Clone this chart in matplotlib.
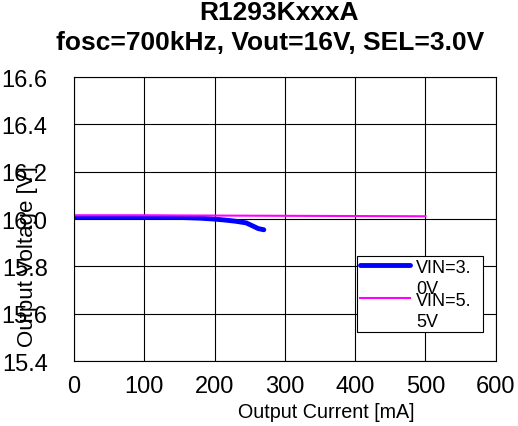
import numpy as np
import matplotlib.pyplot as plt
from matplotlib.legend_handler import HandlerLine2D
from matplotlib.lines import Line2D

plt.rcParams['font.family'] = ['Liberation Sans', 'DejaVu Sans']

# VIN=3.0V
i_30 = [0, 50, 100, 150, 180, 200, 215, 230, 245, 255, 262, 270]
v_30 = [16.008, 16.008, 16.008, 16.007, 16.004, 16.000, 15.996, 15.991, 15.984, 15.970, 15.960, 15.955]
# VIN=5.5V
i_55 = [0, 100, 200, 300, 400, 500]
v_55 = [16.016, 16.016, 16.015, 16.014, 16.013, 16.012]


class TopLine(HandlerLine2D):
    # put the legend line next to the first text line
    def create_artists(self, legend, orig_handle, xdescent, ydescent, width, height, fontsize, trans):
        arts = super().create_artists(legend, orig_handle, xdescent, ydescent, width, height, fontsize, trans)
        for a in arts:
            if isinstance(a, Line2D):
                a.set_ydata(np.asarray(a.get_ydata()) + 0.72 * fontsize)
        return arts


fig = plt.figure(figsize=(5.18, 4.27), dpi=100)
ax = fig.add_axes([0.143, 0.152, 0.814, 0.665])

l1, = ax.plot(i_30, v_30, color='#0000ff', lw=3.5, solid_capstyle='round', label='VIN=3.\n0V')
l2, = ax.plot(i_55, v_55, color='#ff00ff', lw=1.5, label='VIN=5.\n5V')

ax.set_xlim(0, 600)
ax.set_ylim(15.4, 16.6)
ax.set_xticks(np.arange(0, 601, 100))
ax.set_yticks([15.4, 15.6, 15.8, 16.0, 16.2, 16.4, 16.6])
ax.set_yticklabels(['15.4', '15.6', '15.8', '16.0', '16.2', '16.4', '16.6'])
ax.grid(True, color='black', lw=0.8)
ax.tick_params(length=0, labelsize=17)
ax.tick_params(axis='y', pad=19)
ax.tick_params(axis='x', pad=10)
for s in ax.spines.values():
    s.set_color('black')
    s.set_linewidth(0.8)

leg = ax.legend(loc='upper left', bbox_to_anchor=(0.6706, 0.0, 0.2986, 0.3697), mode='expand',
                fontsize=13, frameon=True, fancybox=False, edgecolor='black', framealpha=1,
                handlelength=2.8, handletextpad=0.35, borderpad=0.15, labelspacing=-0.3,
                borderaxespad=0, handler_map={Line2D: TopLine()})
leg.get_frame().set_linewidth(0.8)
for t in leg.get_texts():
    t.set_linespacing(1.32)

fig.text(0.538, 0.970, 'R1293KxxxA', ha='center', va='center', fontsize=19, fontweight='bold')
fig.text(0.521, 0.900, 'fosc=700kHz, Vout=16V, SEL=3.0V', ha='center', va='center', fontsize=19, fontweight='bold')
fig.text(0.629, 0.035, 'Output Current [mA]', ha='center', va='center', fontsize=14.2)
fig.text(0.054, 0.398, 'Output Voltage [V]', ha='center', va='center', fontsize=16, rotation=90)

fig.savefig('out.png', dpi=100)
